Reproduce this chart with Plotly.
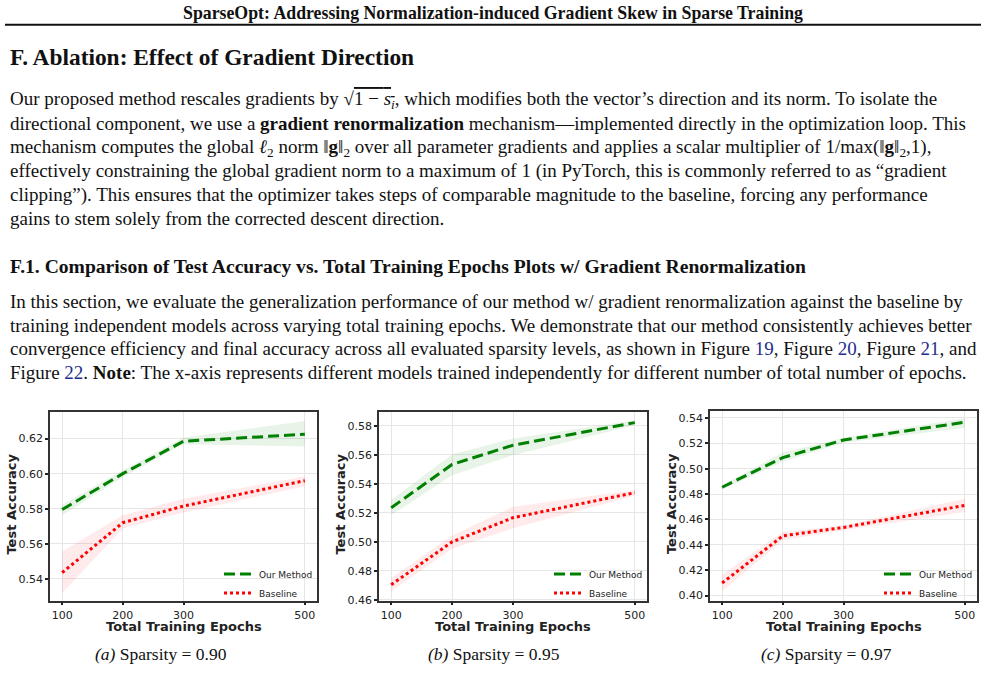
import plotly.graph_objects as go

W, H = 987, 682

epochs = [100, 200, 300, 500]

# (a) Sparsity = 0.90
a_ours = [0.5795, 0.600, 0.6185, 0.6225]
a_ours_lo = [0.5762, 0.5980, 0.6168, 0.6155]
a_ours_hi = [0.5823, 0.6020, 0.6206, 0.6300]
a_base = [0.5435, 0.5720, 0.5815, 0.5960]
a_base_lo = [0.5319, 0.5687, 0.5778, 0.5928]
a_base_hi = [0.5555, 0.5762, 0.5857, 0.5985]

# (b) Sparsity = 0.95
b_ours = [0.5235, 0.5534, 0.5667, 0.5823]
b_ours_lo = [0.5184, 0.5460, 0.5598, 0.5805]
b_ours_hi = [0.5288, 0.5603, 0.5713, 0.5839]
b_base = [0.4703, 0.4999, 0.5166, 0.5339]
b_base_lo = [0.4657, 0.4952, 0.5093, 0.5318]
b_base_hi = [0.4749, 0.5044, 0.5242, 0.5357]

# (c) Sparsity = 0.97
c_ours = [0.4854, 0.5088, 0.5226, 0.5366]
c_ours_lo = [0.4836, 0.5054, 0.5205, 0.5322]
c_ours_hi = [0.4872, 0.5127, 0.5244, 0.5400]
c_base = [0.4099, 0.4471, 0.4537, 0.4711]
c_base_lo = [0.4034, 0.4437, 0.4515, 0.4658]
c_base_hi = [0.4164, 0.4502, 0.4554, 0.4763]

y_ranges = [[0.5275, 0.635], [0.4593, 0.5894], [0.396, 0.5452]]
y_ticks = [[0.54, 0.56, 0.58, 0.60, 0.62],
           [0.46, 0.48, 0.50, 0.52, 0.54, 0.56, 0.58],
           [0.40, 0.42, 0.44, 0.46, 0.48, 0.50, 0.52, 0.54]]
captions = ["(a)", "(b)", "(c)"]
sparsities = ["0.90", "0.95", "0.97"]
series_names = ["Our Method", "Baseline"]

panels = [
    (a_ours, a_ours_lo, a_ours_hi, a_base, a_base_lo, a_base_hi),
    (b_ours, b_ours_lo, b_ours_hi, b_base, b_base_lo, b_base_hi),
    (c_ours, c_ours_lo, c_ours_hi, c_base, c_base_lo, c_base_hi),
]

# plot box pixel geometry (left, right, top, bottom)
boxes = [(50, 317, 416, 606), (379, 647, 416, 606), (710, 977, 415, 606)]
ytitle_x = [12, 341, 671]
caption_x = [161, 494, 826]


def px(x):
    return x / W


def py(y):
    return 1 - y / H


fig = go.Figure()
GREEN = "#008000"
RED = "#ff0000"
SANS = "DejaVu Sans"
SERIF = "Liberation Serif"
DARK = "#222222"

for i, (o, olo, ohi, b, blo, bhi) in enumerate(panels):
    n = "" if i == 0 else str(i + 1)
    xa, ya = "x" + n, "y" + n
    lg = "legend" + n
    # bands
    fig.add_trace(go.Scatter(x=epochs, y=ohi, mode="lines", line=dict(width=0),
                             showlegend=False, hoverinfo="skip", xaxis=xa, yaxis=ya))
    fig.add_trace(go.Scatter(x=epochs, y=olo, mode="lines", line=dict(width=0),
                             fill="tonexty", fillcolor="rgba(0,128,0,0.09)",
                             showlegend=False, hoverinfo="skip", xaxis=xa, yaxis=ya))
    fig.add_trace(go.Scatter(x=epochs, y=bhi, mode="lines", line=dict(width=0),
                             showlegend=False, hoverinfo="skip", xaxis=xa, yaxis=ya))
    fig.add_trace(go.Scatter(x=epochs, y=blo, mode="lines", line=dict(width=0),
                             fill="tonexty", fillcolor="rgba(255,0,0,0.08)",
                             showlegend=False, hoverinfo="skip", xaxis=xa, yaxis=ya))
    # lines
    fig.add_trace(go.Scatter(x=epochs, y=o, mode="lines", name=series_names[0],
                             line=dict(color=GREEN, width=3, dash="11px,5px"),
                             xaxis=xa, yaxis=ya, legend=lg))
    fig.add_trace(go.Scatter(x=epochs, y=b, mode="lines", name=series_names[1],
                             line=dict(color=RED, width=3, dash="dot"),
                             xaxis=xa, yaxis=ya, legend=lg))

    l, r, t, btm = boxes[i]
    axis_common = dict(showline=True, linecolor="#333333", linewidth=1.5, mirror=True,
                       showgrid=True, gridcolor="#e6e6e6", gridwidth=1,
                       ticks="outside", ticklen=3, tickwidth=2, tickcolor=DARK,
                       tickfont=dict(family=SANS, size=11, color=DARK),
                       zeroline=False)
    fig.update_layout(**{
        "xaxis" + n: dict(domain=[px(l), px(r)], anchor=ya, range=[80, 520],
                          tickvals=epochs, ticktext=[str(e) for e in epochs],
                          **axis_common),
        "yaxis" + n: dict(domain=[py(btm), py(t)], anchor=xa, range=y_ranges[i],
                          tickvals=y_ticks[i], tickformat=".2f",
                          **axis_common),
        lg: dict(x=px(r + 1), y=py(btm + 7), xanchor="right", yanchor="bottom",
                 bgcolor="rgba(0,0,0,0)", borderwidth=0, tracegroupgap=0,
                 traceorder="normal",
                 font=dict(family=SANS, size=9, color=DARK),
                 itemwidth=30),
    })
    # axis titles
    fig.add_annotation(xref="paper", yref="paper", x=px(ytitle_x[i]), y=py((t + btm) / 2 - 2),
                       xanchor="center", yanchor="middle", showarrow=False, textangle=-90,
                       text="<b>Test Accuracy</b>",
                       font=dict(family=SANS, size=13, color=DARK))
    fig.add_annotation(xref="paper", yref="paper", x=px((l + r) / 2), y=py(632),
                       xanchor="center", yanchor="middle", showarrow=False,
                       text="<b>Total Training Epochs</b>",
                       font=dict(family=SANS, size=13, color=DARK))
    fig.add_annotation(xref="paper", yref="paper", x=px(caption_x[i]), y=py(660),
                       xanchor="center", yanchor="middle", showarrow=False,
                       text=f"<i>{captions[i]}</i> Sparsity = {sparsities[i]}",
                       font=dict(family=SERIF, size=17.5, color="#111111"))

# page text
BLUE = "#1f2e8c"


def line(txt, y, size=19, x=8, anchor="left", bold=False):
    if bold:
        txt = "<b>" + txt + "</b>"
    fig.add_annotation(xref="paper", yref="paper", x=px(x), y=py(y),
                       xanchor=anchor, yanchor="middle", showarrow=False, text=txt,
                       font=dict(family=SERIF, size=size, color="#111111"))


line("SparseOpt: Addressing Normalization-induced Gradient Skew in Sparse Training",
     13, size=17.8, x=493, anchor="center", bold=True)
line("F. Ablation: Effect of Gradient Direction", 58, size=23.4, bold=True)

sqrt_term = "√<span style='text-decoration:overline'>1 − <i>s<sub>i</sub></i></span>"
p1 = [
    f"Our proposed method rescales gradients by {sqrt_term}, which modifies both the vector’s direction and its norm. To isolate the",
    "directional component, we use a <b>gradient renormalization</b> mechanism—implemented directly in the optimization loop. This",
    "mechanism computes the global <i>ℓ</i><sub>2</sub> norm ‖<b>g</b>‖<sub>2</sub> over all parameter gradients and applies a scalar multiplier of 1/max(‖<b>g</b>‖<sub>2</sub>,1),",
    "effectively constraining the global gradient norm to a maximum of 1 (in PyTorch, this is commonly referred to as “gradient",
    "clipping”). This ensures that the optimizer takes steps of comparable magnitude to the baseline, forcing any performance",
    "gains to stem solely from the corrected descent direction.",
]
p1_y = [101, 125, 149, 173, 197, 220]
for t, y in zip(p1, p1_y):
    line(t, y)

line("F.1. Comparison of Test Accuracy vs. Total Training Epochs Plots w/ Gradient Renormalization",
     269, size=19.6, bold=True)

p2 = [
    "In this section, we evaluate the generalization performance of our method w/ gradient renormalization against the baseline by",
    "training independent models across varying total training epochs. We demonstrate that our method consistently achieves better",
    f"convergence efficiency and final accuracy across all evaluated sparsity levels, as shown in Figure <span style='color:{BLUE}'>19</span>, Figure <span style='color:{BLUE}'>20</span>, Figure <span style='color:{BLUE}'>21</span>, and",
    f"Figure <span style='color:{BLUE}'>22</span>. <b>Note</b>: The x-axis represents different models trained independently for different number of total number of epochs.",
]
p2_y = [304, 328, 352, 376]
for t, y in zip(p2, p2_y):
    line(t, y)

fig.add_shape(type="line", xref="paper", yref="paper", x0=px(5), x1=px(981),
              y0=py(25), y1=py(25), line=dict(color="#111111", width=2))

fig.update_layout(width=W, height=H, margin=dict(l=0, r=0, t=0, b=0),
                  plot_bgcolor="white", paper_bgcolor="white")

fig.write_html("out.html")
